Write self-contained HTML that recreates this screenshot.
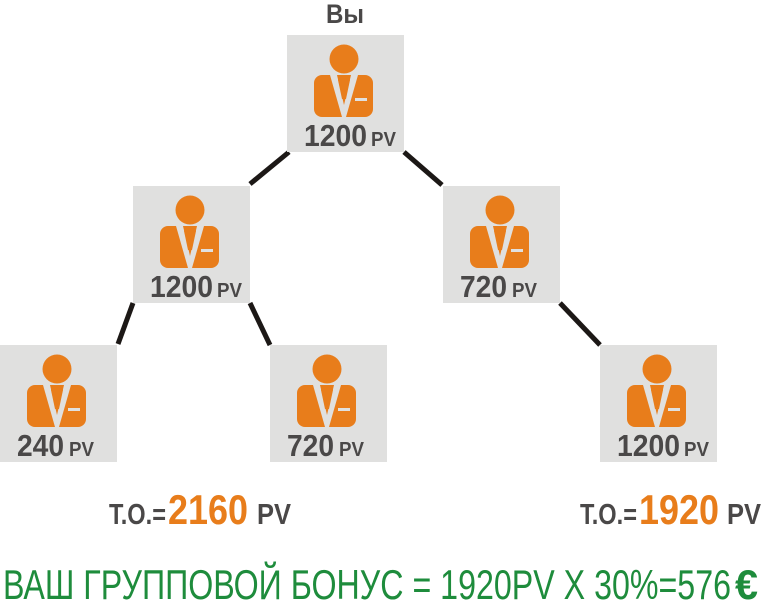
<!DOCTYPE html>
<html><head><meta charset="utf-8"><style>
html,body{margin:0;padding:0;background:#fff;width:761px;height:607px;overflow:hidden}
svg{display:block}
text{font-family:"Liberation Sans Narrow","Liberation Sans",sans-serif;font-weight:bold}
</style></head><body>
<svg width="761" height="607" viewBox="0 0 761 607" xmlns="http://www.w3.org/2000/svg">
<defs>
<g id="icon">
<rect x="0" y="0" width="117" height="117" fill="#e0e0df"/>
<circle cx="57" cy="24" r="14.5" fill="#e87d1b"/>
<rect x="27" y="40" width="59" height="42" rx="8" fill="#e87d1b"/>
<polygon points="43,40 50,40 57,70 64,40 71,40 59,82 55,82" fill="#e0e0df"/>
<polygon points="53,40 61,40 63,45 59,64 55,64 51,45" fill="#e87d1b"/>
<rect x="68" y="63" width="12" height="3" fill="#e0e0df"/>
</g>
</defs>
<g stroke="#1c1816" stroke-width="5">
<line x1="289" y1="152" x2="250" y2="184"/>
<line x1="404" y1="152" x2="442" y2="185"/>
<line x1="133" y1="303" x2="118" y2="344"/>
<line x1="250" y1="303" x2="270" y2="345"/>
<line x1="560" y1="303" x2="600" y2="345"/>
</g>
<text x="326" y="23" font-size="27" fill="#4a4848" textLength="38" lengthAdjust="spacingAndGlyphs">Вы</text>
<use href="#icon" x="287" y="35"/>
<use href="#icon" x="133" y="186"/>
<use href="#icon" x="443" y="186"/>
<use href="#icon" x="0" y="345"/>
<use href="#icon" x="270" y="345"/>
<use href="#icon" x="600" y="345"/>
<g fill="#4a4848">
<text x="304" y="146" font-size="31" textLength="63" lengthAdjust="spacingAndGlyphs">1200</text><text x="371" y="146" font-size="20" textLength="25" lengthAdjust="spacingAndGlyphs">PV</text>
<text x="150" y="297" font-size="31" textLength="63" lengthAdjust="spacingAndGlyphs">1200</text><text x="217" y="297" font-size="20" textLength="25" lengthAdjust="spacingAndGlyphs">PV</text>
<text x="460" y="297" font-size="31" textLength="47" lengthAdjust="spacingAndGlyphs">720</text><text x="512" y="297" font-size="20" textLength="25" lengthAdjust="spacingAndGlyphs">PV</text>
<text x="17" y="456" font-size="31" textLength="47" lengthAdjust="spacingAndGlyphs">240</text><text x="69" y="456" font-size="20" textLength="25" lengthAdjust="spacingAndGlyphs">PV</text>
<text x="287" y="456" font-size="31" textLength="47" lengthAdjust="spacingAndGlyphs">720</text><text x="339" y="456" font-size="20" textLength="25" lengthAdjust="spacingAndGlyphs">PV</text>
<text x="617" y="456" font-size="31" textLength="63" lengthAdjust="spacingAndGlyphs">1200</text><text x="684" y="456" font-size="20" textLength="25" lengthAdjust="spacingAndGlyphs">PV</text>
</g>
<text x="109" y="524" font-size="29" fill="#4a4848" textLength="57" lengthAdjust="spacingAndGlyphs">Т.О.=</text>
<text x="168" y="524" font-size="42" fill="#e87d1b" textLength="80" lengthAdjust="spacingAndGlyphs">2160</text>
<text x="257" y="524" font-size="29" fill="#4a4848" textLength="34" lengthAdjust="spacingAndGlyphs">PV</text>
<text x="580" y="524" font-size="29" fill="#4a4848" textLength="57" lengthAdjust="spacingAndGlyphs">Т.О.=</text>
<text x="639" y="524" font-size="42" fill="#e87d1b" textLength="80" lengthAdjust="spacingAndGlyphs">1920</text>
<text x="727" y="524" font-size="29" fill="#4a4848" textLength="34" lengthAdjust="spacingAndGlyphs">PV</text>
<text x="3" y="599" font-size="42" fill="#1e8c3c" style="font-weight:normal" textLength="728" lengthAdjust="spacingAndGlyphs">ВАШ ГРУППОВОЙ БОНУС = 1920PV X 30%=576</text>
<text x="735" y="599" font-size="42" fill="#1e8c3c" textLength="23" lengthAdjust="spacingAndGlyphs">€</text>
</svg>
</body></html>
